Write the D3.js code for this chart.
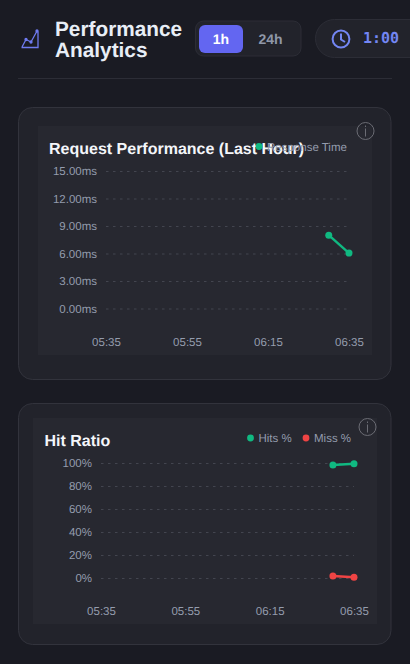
<!DOCTYPE html>
<html><head><meta charset="utf-8">
<script src="https://cdn.jsdelivr.net/npm/d3@7"></script>
<style>
html,body{margin:0;padding:0;background:#1a1b23;overflow:hidden}
svg{display:block;opacity:.999}
text{font-family:"Liberation Sans",Arial,sans-serif;text-rendering:geometricPrecision}
</style></head><body>
<svg id="c" width="410" height="664"></svg>
<script>
const rangeLabels = ["1h","24h"];
const timerLabel = "1:00";
const headerTitle = ["Performance","Analytics"];
const xTickLabels = ["05:35","05:55","06:15","06:35"];
const pointTimes = ["06:30","06:35"];
const requestTitle = "Request Performance (Last Hour)";
const responseLabel = "Response Time";
const responseTicks = [0,3,6,9,12,15];
const responseValues = [8.0,6.05];
const hitTitle = "Hit Ratio";
const hitLabels = ["Hits %","Miss %"];
const hitTicks = [0,20,40,60,80,100];
const hitsValues = [98.2,99.4];
const missValues = [1.8,0.6];

const GREEN="#10b981",RED="#ef4444",INDIGO="#6366f1",MUTED="#949cad";
const svg=d3.select("#c");
const parse=d3.timeParse("%H:%M"), fmt=d3.timeFormat("%H:%M");
const rr=(p,x,y,w,h,r,f,s)=>p.append("rect").attr("x",x).attr("y",y).attr("width",w).attr("height",h).attr("rx",r).attr("fill",f).attr("stroke",s||"none");

// header
const ic=svg.append("g").attr("fill","none").attr("stroke","#6f7bf0").attr("stroke-width",1.3);
ic.append("path").attr("d","M21.5 47.5H38V31.5M22 47L26 39.5L31 42L37 31");
ic.selectAll("circle").data([[26,39.5],[31,42],[37,31]]).join("circle").attr("cx",d=>d[0]).attr("cy",d=>d[1]).attr("r",1).attr("fill","#6f7bf0");
svg.selectAll("text.h").data(headerTitle).join("text").attr("class","h").attr("x",55).attr("y",(d,i)=>35.5+i*21)
  .attr("font-size",20.8).attr("font-weight",700).attr("fill","#e8eef6").text(d=>d);
rr(svg,195.5,21,105.5,35,8,"#22232b","#2c2d36");
rr(svg,199,25,44,28,6,INDIGO);
svg.selectAll("text.r").data(rangeLabels).join("text").attr("class","r").attr("x",(d,i)=>i?270.5:221).attr("y",44)
  .attr("text-anchor","middle").attr("font-size",14).attr("font-weight",700).attr("fill",(d,i)=>i?"#8f97a8":"#fff").text(d=>d);
rr(svg,315.5,19.5,120,38,19,"#22232b","#2c2d36");
const ck=svg.append("g").attr("fill","none").attr("stroke","#7386f3").attr("stroke-width",2);
ck.append("circle").attr("cx",341).attr("cy",39).attr("r",8.4);
ck.append("path").attr("d","M341 33.5V39.5L345 42");
svg.append("text").attr("x",363).attr("y",43).attr("font-size",15).attr("font-weight",700)
  .style("font-family","'DejaVu Sans Mono',monospace").attr("fill","#7386f3").text(timerLabel);
svg.append("line").attr("x1",18).attr("x2",392).attr("y1",78.5).attr("y2",78.5).attr("stroke","#2c2d36");

function chart(o){
  rr(svg,o.card[0],o.card[1],o.card[2],o.card[3],14,"#22232b","#32333c");
  rr(svg,o.inner[0],o.inner[1],o.inner[2],o.inner[3],0,"#272830");
  const x=d3.scaleTime().domain([parse(xTickLabels[0]),parse(xTickLabels[3])]).range(o.xr);
  const y=d3.scaleLinear().domain([o.ticks[0],o.ticks[o.ticks.length-1]]).range(o.yr);
  const ya=svg.append("g").attr("transform",`translate(${o.xr[0]},0)`)
    .call(d3.axisLeft(y).tickValues(o.ticks).tickFormat(o.fmt).tickSize(-(o.xr[1]-o.xr[0])).tickPadding(9));
  ya.select(".domain").remove();
  ya.selectAll("line").attr("stroke","#43454f").attr("stroke-dasharray","2.5 4.5");
  ya.selectAll("text").attr("fill",MUTED).attr("font-size",11.5).style("font-family","'Liberation Sans',sans-serif");
  const xa=svg.append("g").attr("transform",`translate(0,${o.xaxisY})`)
    .call(d3.axisBottom(x).tickValues(xTickLabels.map(parse)).tickFormat(fmt).tickSize(0));
  xa.select(".domain").remove();
  xa.selectAll("text").attr("fill",MUTED).attr("font-size",11.5).style("font-family","'Liberation Sans',sans-serif");
  const times=pointTimes.map(parse);
  const line=d3.line().x((d,i)=>x(times[i])).y(d=>y(d));
  o.series.forEach(s=>{
    svg.append("path").attr("d",line(s.v)).attr("fill","none").attr("stroke",s.c).attr("stroke-width",2.4);
    svg.append("g").selectAll("circle").data(s.v).join("circle").attr("cx",(d,i)=>x(times[i])).attr("cy",d=>y(d)).attr("r",3.5).attr("fill",s.c);
  });
  svg.append("text").attr("x",o.titleX).attr("y",o.titleY).attr("font-size",o.titleSize).attr("font-weight",700).attr("fill","#f4f6fa").text(o.title);
  o.legend.forEach(l=>{
    svg.append("circle").attr("cx",l.x).attr("cy",o.legY).attr("r",3.4).attr("fill",l.c);
    svg.append("text").attr("x",l.x+8).attr("y",o.legY+4).attr("font-size",11.5).attr("fill",MUTED).text(l.t);
  });
  const i=svg.append("g").attr("fill","none").attr("stroke","#6b6c74").attr("stroke-width",1);
  i.append("circle").attr("cx",o.info[0]).attr("cy",o.info[1]).attr("r",8.5);
  i.append("path").attr("d",`M${o.info[0]} ${o.info[1]-2.5}V${o.info[1]+5.5}M${o.info[0]} ${o.info[1]-5.5}V${o.info[1]-4}`);
}
chart({card:[18.5,107.5,372.5,272],inner:[38,126,334,229],xr:[106,349],yr:[308.5,171],xaxisY:335,ticks:responseTicks,
  fmt:d=>d3.format(".2f")(d)+"ms",series:[{v:responseValues,c:GREEN}],title:requestTitle,titleX:49,titleY:153.5,titleSize:16,
  legend:[{x:259,c:GREEN,t:responseLabel}],legY:146.5,info:[365.5,131]});
chart({card:[18.5,403.5,372.5,241],inner:[33,418,344,206],xr:[101,354],yr:[578,463],xaxisY:604,ticks:hitTicks,
  fmt:d=>d+"%",series:[{v:hitsValues,c:GREEN},{v:missValues,c:RED}],title:hitTitle,titleX:44.5,titleY:445.5,titleSize:16,
  legend:[{x:250.5,c:GREEN,t:hitLabels[0]},{x:306,c:RED,t:hitLabels[1]}],legY:438,info:[367.5,427]});
</script></body></html>
